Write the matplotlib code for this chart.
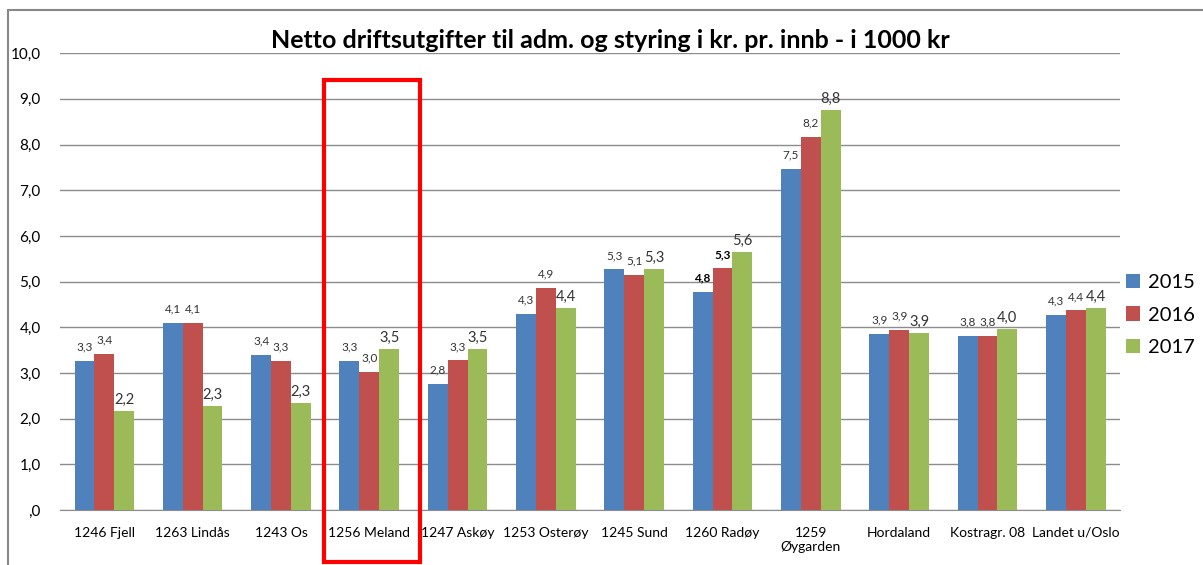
import matplotlib.pyplot as plt
import matplotlib.patches as mpatches
import matplotlib.transforms as mtransforms
import numpy as np

plt.rcParams['font.family'] = ['Lato', 'DejaVu Sans']

labels = ['1246 Fjell', '1263 Lindås', '1243 Os', '1256 Meland', '1247 Askøy',
          '1253 Osterøy', '1245 Sund', '1260 Radøy', '1259\nØygarden',
          'Hordaland', 'Kostragr. 08', 'Landet u/Oslo']
v2015 = [3.26, 4.10, 3.39, 3.26, 2.76, 4.29, 5.27, 4.78, 7.47, 3.86, 3.81, 4.27]
v2016 = [3.42, 4.10, 3.26, 3.02, 3.28, 4.86, 5.14, 5.29, 8.17, 3.94, 3.81, 4.37]
v2017 = [2.17, 2.28, 2.34, 3.52, 3.52, 4.42, 5.27, 5.64, 8.76, 3.88, 3.97, 4.43]
years = ['2015', '2016', '2017']
colors = ['#4F81BD', '#C0504D', '#9BBB59']

x = np.arange(len(labels))
width = 0.225

fig = plt.figure(figsize=(12.03, 5.65), dpi=100)
ax = fig.add_axes([0.050, 0.097, 0.881, 0.809])

series = [v2015, v2016, v2017]
rects = []
for i, (vals, c, yr) in enumerate(zip(series, colors, years)):
    r = ax.bar(x + (i - 1) * width, vals, width, color=c, label=yr, zorder=3)
    rects.append(r)

fmt = lambda v: f'{v:.1f}'.replace('.', ',')
for i, r in enumerate(rects):
    size = 10.5 if i == 2 else 8.5
    pad = 3 if i == 2 else 6
    texts = ax.bar_label(r, labels=[fmt(v) for v in series[i]], padding=pad,
                         fontsize=size, color='#333333')
    if i < 2:
        texts[7].set_fontweight('bold')
        texts[7].set_color('black')

ax.set_ylim(0, 10)
ax.set_xlim(-0.5, len(labels) - 0.5)
ax.set_yticks(np.arange(0, 10.5, 1))
ax.set_yticklabels([',0'] + [fmt(v) for v in np.arange(1, 10.5, 1)], fontsize=11)
ax.set_xticks(x)
ax.set_xticklabels(labels, fontsize=10)
ax.tick_params(length=0, pad=12)
ax.tick_params(axis='y', pad=14)
ax.yaxis.grid(True, color='#8c8c8c', linewidth=1)
ax.set_axisbelow(True)
for s in ['left', 'right', 'top']:
    ax.spines[s].set_visible(False)
ax.spines['bottom'].set_color('#8c8c8c')

fig.text(0.507, 0.928, 'Netto driftsutgifter til adm. og styring i kr. pr. innb - i 1000 kr',
         ha='center', va='center', fontsize=18, fontweight='bold')

fig.legend(loc='center left', bbox_to_anchor=(1126 / 1203, (565 - 315) / 565),
           frameon=False, fontsize=14.5, handlelength=0.7, handleheight=0.7,
           handletextpad=0.4, labelspacing=0.75, borderaxespad=0, borderpad=0)

# highlight box around Meland
trans = mtransforms.blended_transform_factory(ax.transData, ax.transAxes)
box = mpatches.Rectangle((2.49, -0.114), 1.09, 1.055, transform=trans,
                         fill=False, edgecolor='#ff0000', linewidth=3,
                         clip_on=False, zorder=5)
ax.add_patch(box)

# outer chart border
fig.add_artist(mpatches.Rectangle((8 / 1203, -0.05), 1.1, (565 - 10) / 565 + 0.05,
                                  transform=fig.transFigure, fill=False,
                                  edgecolor='#888888', linewidth=1.5))

fig.savefig('out.png', dpi=100)
